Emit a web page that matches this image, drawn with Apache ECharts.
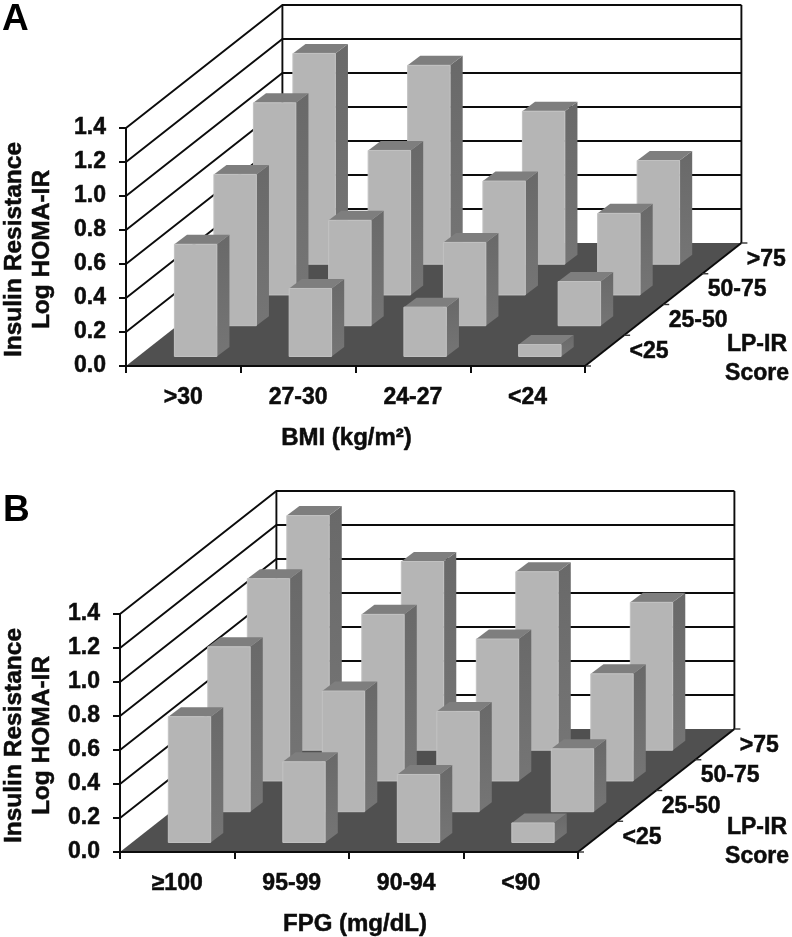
<!DOCTYPE html>
<html>
<head>
<meta charset="utf-8">
<style>
  html, body { margin: 0; padding: 0; background: #fff; }
  #main { width: 792px; height: 937px; }
</style>
<script src="https://cdn.jsdelivr.net/npm/echarts@6/dist/echarts.min.js"></script>
</head>
<body>
<div id="main"></div>
<script>
const lpirRows = ['<25', '25-50', '50-75', '>75'];
const bmiCats = ['>30', '27-30', '24-27', '<24'];
const fpgCats = ['≥100', '95-99', '90-94', '<90'];
const yTicks = [0, 0.2, 0.4, 0.6, 0.8, 1.0, 1.2, 1.4];

// one list per LP-IR row, front to back, in category order
const bmiLt25 = [0.66, 0.40, 0.29, 0.07];
const bmi25to50 = [0.89, 0.62, 0.49, 0.26];
const bmi50to75 = [1.13, 0.85, 0.67, 0.48];
const bmiGt75 = [1.24, 1.17, 0.90, 0.61];

const fpgLt25 = [0.74, 0.475, 0.40, 0.115];
const fpg25to50 = [0.97, 0.71, 0.59, 0.37];
const fpg50to75 = [1.19, 0.98, 0.835, 0.63];
const fpgGt75 = [1.38, 1.11, 1.05, 0.87];

const stepX = 39.1, stepY = 30.75;   // shift of one LP-IR row on screen
const barStepX = 39.5;
const barPart = 0.37, rowGap = 0.31, boxX = 12.6, boxY = 9.5;
const font = '"Liberation Sans", Arial, sans-serif';
const ink = '#0c0c0c';
const boldText = { color: ink, fontFamily: font, fontWeight: 'bold', textBorderColor: ink, textBorderWidth: 0.5 };

function barTriples(rows) {
  const out = [];
  // back rows first so the front ones paint over them
  for (let r = rows.length - 1; r >= 0; r--) {
    rows[r].forEach((v, c) => out.push([c, r, v]));
  }
  return out;
}

function renderBar(params, api) {
  const cat = api.value(0), row = api.value(1), val = api.value(2);
  const base = api.coord([cat, 0]);
  const top = api.coord([cat, val]);
  const w = api.size([1, 0])[0] * barPart;
  const x0 = base[0] - w / 2 + (row + rowGap) * barStepX;
  const x1 = x0 + w;
  const y0 = base[1] - (row + rowGap) * stepY;
  const y1 = top[1] - (row + rowGap) * stepY;
  const sideFill = new echarts.graphic.LinearGradient(0, 0, 0, 1, [
    { offset: 0, color: '#696969' }, { offset: 1, color: '#757575' }
  ]);
  return {
    type: 'group',
    children: [
      { type: 'polygon', shape: { points: [[x1, y1], [x1 + boxX, y1 - boxY], [x1 + boxX, y0 - boxY], [x1, y0]] }, style: { fill: sideFill } },
      { type: 'polygon', shape: { points: [[x0, y1], [x0 + boxX, y1 - boxY], [x1 + boxX, y1 - boxY], [x1, y1]] }, style: { fill: '#7e7e7e' } },
      { type: 'rect', shape: { x: x0, y: y1, width: w, height: y0 - y1 }, style: { fill: '#b5b5b5', stroke: '#c2c2c2', lineWidth: 1 } }
    ]
  };
}

function renderWall(params, api) {
  const v = api.value(1);
  const g = params.coordSys;
  const y = api.coord([0, v])[1];
  const dx = stepX * lpirRows.length, dy = stepY * lpirRows.length;
  const left = g.x, right = g.x + g.width;
  const bottom = g.y + g.height;
  const line = { stroke: ink, lineWidth: 1.9, fill: null };
  const kids = [];
  if (v === 0) {
    kids.push({ type: 'polygon', shape: { points: [[left, bottom], [left + dx, bottom - dy], [right + dx, bottom - dy], [right, bottom]] }, style: { fill: '#505050' } });
    kids.push({ type: 'line', shape: { x1: left + dx, y1: g.y - dy, x2: left + dx, y2: bottom - dy }, style: line });
    kids.push({ type: 'line', shape: { x1: right + dx, y1: g.y - dy, x2: right + dx, y2: bottom - dy }, style: line });
    kids.push({ type: 'line', shape: { x1: right, y1: bottom, x2: right + dx, y2: bottom - dy }, style: line });
    // little ticks out of the floor's right edge
    for (let r = 0; r <= lpirRows.length; r++) {
      const tx = right + r * stepX, ty = bottom - r * stepY;
      kids.push({ type: 'line', shape: { x1: tx, y1: ty, x2: tx + 6, y2: ty }, style: { stroke: '#333', lineWidth: 1.4 } });
    }
  } else {
    kids.push({ type: 'polyline', shape: { points: [[left, y], [left + dx, y - dy], [right + dx, y - dy]] }, style: line });
  }
  return { type: 'group', children: kids };
}

function renderRowLabel(params, api) {
  const r = api.value(0);
  const g = params.coordSys;
  return {
    type: 'text',
    style: {
      text: lpirRows[r],
      x: g.x + g.width + (r + 0.5) * stepX + 25,
      y: g.y + g.height - (r + 0.5) * stepY + 1,
      font: 'bold 23px ' + font,
      fill: ink,
      stroke: ink,
      lineWidth: 0.5,
      align: 'left',
      verticalAlign: 'middle'
    }
  };
}

function panelAxes(i, cats, xName, xPad, yGap) {
  return {
    x: {
      type: 'category', gridIndex: i, data: cats, z: 5,
      axisLine: { lineStyle: { color: ink, width: 2 } },
      axisTick: { show: true, length: 7, lineStyle: { color: ink, width: 2 } },
      axisLabel: Object.assign({}, boldText, { fontSize: 23, margin: 20, interval: 0 }),
      splitLine: { show: false },
      name: xName, nameLocation: 'middle', nameGap: 60,
      nameTextStyle: Object.assign({}, boldText, { fontSize: 24, padding: xPad })
    },
    y: {
      type: 'value', gridIndex: i, min: 0, max: 1.4, interval: 0.2, z: 5,
      axisLine: { show: true, lineStyle: { color: ink, width: 2 } },
      axisTick: { show: true, length: 7, lineStyle: { color: ink, width: 2 } },
      axisLabel: Object.assign({}, boldText, { fontSize: 23, margin: 20, padding: [4, 0, 0, 0], formatter: v => v.toFixed(1) }),
      splitLine: { show: false },
      name: 'Insulin Resistance\nLog HOMA-IR', nameLocation: 'middle', nameGap: yGap, nameRotate: 90,
      nameTextStyle: Object.assign({}, boldText, { fontSize: 24.5, lineHeight: 28, padding: [0, 5, 0, 0] })
    }
  };
}

function panelSeries(i, rows) {
  const base = { type: 'custom', xAxisIndex: i, yAxisIndex: i, clip: false, silent: true };
  return [
    Object.assign({}, base, { z: 1, renderItem: renderWall, data: yTicks.map(v => [0, v]) }),
    Object.assign({}, base, { z: 2, renderItem: renderBar, data: barTriples(rows), encode: { x: 0, y: 2 } }),
    Object.assign({}, base, { z: 3, renderItem: renderRowLabel, data: lpirRows.map((n, r) => [r, 0]), encode: { x: 0, y: 1 } })
  ];
}

const axA = panelAxes(0, bmiCats, 'BMI (kg/m²)', [0, 18, 0, 0], 70);
const axB = panelAxes(1, fpgCats, 'FPG (mg/dL)', [0, 0, 0, 12], 64);
const letterStyle = { color: '#000', fontFamily: font, fontWeight: 'bold', fontSize: 37 };
const scoreStyle = Object.assign({}, boldText, { fontSize: 23, lineHeight: 29, align: 'center' });

const myChart = echarts.init(document.getElementById('main'), null, { width: 792, height: 937 });
myChart.setOption({
  animation: false,
  backgroundColor: '#fff',
  title: [
    { text: 'A', left: 2, top: 1, padding: 0, textStyle: letterStyle },
    { text: 'B', left: 3, top: 492, padding: 0, textStyle: letterStyle },
    { text: 'LP-IR\nScore', left: 757, top: 330, padding: 0, textAlign: 'center', textStyle: scoreStyle },
    { text: 'LP-IR\nScore', left: 757, top: 813, padding: 0, textAlign: 'center', textStyle: scoreStyle }
  ],
  grid: [
    { left: 126, width: 459, top: 128, height: 238, outerBoundsMode: 'none' },
    { left: 120, width: 458, top: 614, height: 238, outerBoundsMode: 'none' }
  ],
  xAxis: [axA.x, axB.x],
  yAxis: [axA.y, axB.y],
  series: panelSeries(0, [bmiLt25, bmi25to50, bmi50to75, bmiGt75])
    .concat(panelSeries(1, [fpgLt25, fpg25to50, fpg50to75, fpgGt75]))
});
</script>
</body>
</html>
